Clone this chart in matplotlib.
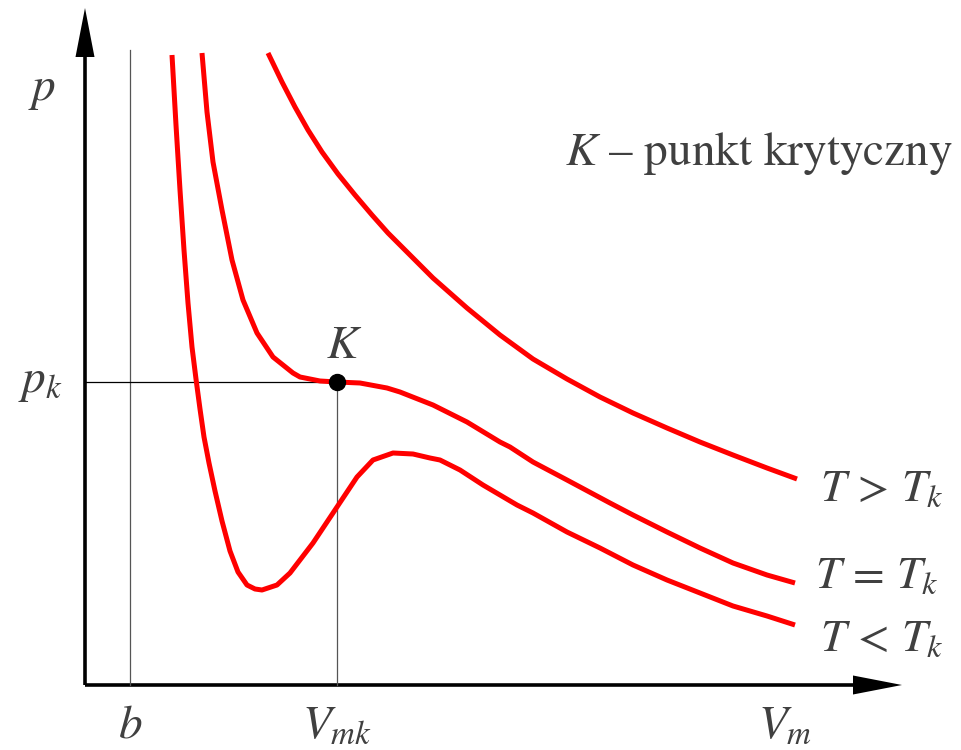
import numpy as np
import matplotlib
matplotlib.use("Agg")
import matplotlib.pyplot as plt

plt.rcParams['mathtext.fontset'] = 'stix'
plt.rcParams['font.family'] = ['STIXGeneral', 'DejaVu Sans']

# izotermy van der Waalsa (V_m, p) w jednostkach rysunku
V_below = [87, 91, 95, 99, 103, 107, 111, 115, 119, 124, 130, 137, 145, 153,
           162, 170, 177, 192, 205, 228, 252, 272, 288, 308, 328, 345, 355,
           375, 398, 432, 448, 482, 515, 548, 582, 615, 648, 682, 710]
p_below = [630, 560, 495, 435, 382, 338, 306, 276, 248, 222, 194, 164, 134, 113,
           100, 96, 95, 100, 112, 142, 178, 208, 225, 232, 231, 227, 225,
           215, 200, 180, 172, 153, 137, 120, 105, 92, 79, 69, 60]

V_crit = [117, 122, 128, 137, 147, 158, 172, 188, 208, 215, 235, 252, 275, 302,
          315, 348, 382, 415, 425, 448, 482, 525, 548, 582, 615, 648, 682, 710]
p_crit = [632, 573, 523, 475, 425, 385, 352, 328, 312, 308, 304, 303, 302, 297,
          293, 280, 263, 243, 238, 223, 205, 182, 170, 153, 137, 122, 110, 102]

V_above = [183, 197, 210, 223, 237, 253, 270, 287, 303, 315, 348, 382, 415, 448,
           482, 515, 548, 582, 615, 648, 682, 712]
p_above = [632, 603, 578, 555, 533, 511, 490, 470, 452, 440, 407, 377, 350, 326,
           306, 288, 272, 257, 243, 230, 217, 206]

b = 45
V_mk, p_k = 252, 303
curve_labels = [r'$T\,>\,T_k$', r'$T\,=\,T_k$', r'$T\,<\,T_k$']

fig = plt.figure(figsize=(9.61, 7.5), dpi=100)
ax = fig.add_axes([0, 0, 1, 1])
ax.set_xlim(-85, 876)
ax.set_ylim(-65, 685)
ax.axis('off')

txt = '#404040'
fs = 34

# osie ze strzałkami
ax.plot([0, 0], [0, 630], color='black', lw=2.6, solid_capstyle='butt')
ax.plot([0, 770], [0, 0], color='black', lw=2.6, solid_capstyle='butt')
ax.fill([-9.5, 9.5, 0], [628, 628, 677], color='black', lw=0)
ax.fill([768, 768, 817], [-9.5, 9.5, 0], color='black', lw=0)

# linie pomocnicze
ax.plot([b, b], [0, 635], color='#555555', lw=0.9)
ax.plot([V_mk, V_mk], [0, p_k], color='#555555', lw=0.9)
ax.plot([0, V_mk], [p_k, p_k], color='black', lw=0.9)

# izotermy
for V, p in [(V_above, p_above), (V_crit, p_crit), (V_below, p_below)]:
    ax.plot(V, p, color='#ff0000', lw=3.6, solid_capstyle='butt',
            solid_joinstyle='round')

ax.plot([V_mk], [p_k], 'o', color='black', ms=11.5, zorder=5)

# opisy
ax.text(-57, 585, r'$p$', fontsize=fs, color=txt, ha='left', va='baseline')
ax.text(-67, 293, r'$p_k$', fontsize=fs, color=txt, ha='left', va='baseline')
ax.text(241, 327, r'$K$', fontsize=fs, color=txt, ha='left', va='baseline')
ax.text(480, 520, r'$K$ – punkt krytyczny', fontsize=fs, color=txt,
        ha='left', va='baseline')
ax.text(b, -52, r'$b$', fontsize=fs, color=txt, ha='center', va='baseline')
ax.text(V_mk, -53, r'$V_{mk}$', fontsize=fs, color=txt, ha='center', va='baseline')
ax.text(700, -53, r'$V_m$', fontsize=fs, color=txt, ha='center', va='baseline')

label_x = [735, 730, 735]
label_y = [184, 97, 34]
for s, x, y in zip(curve_labels, label_x, label_y):
    ax.text(x, y, s, fontsize=33, color=txt, ha='left', va='baseline')

fig.savefig('out.png', dpi=100)
